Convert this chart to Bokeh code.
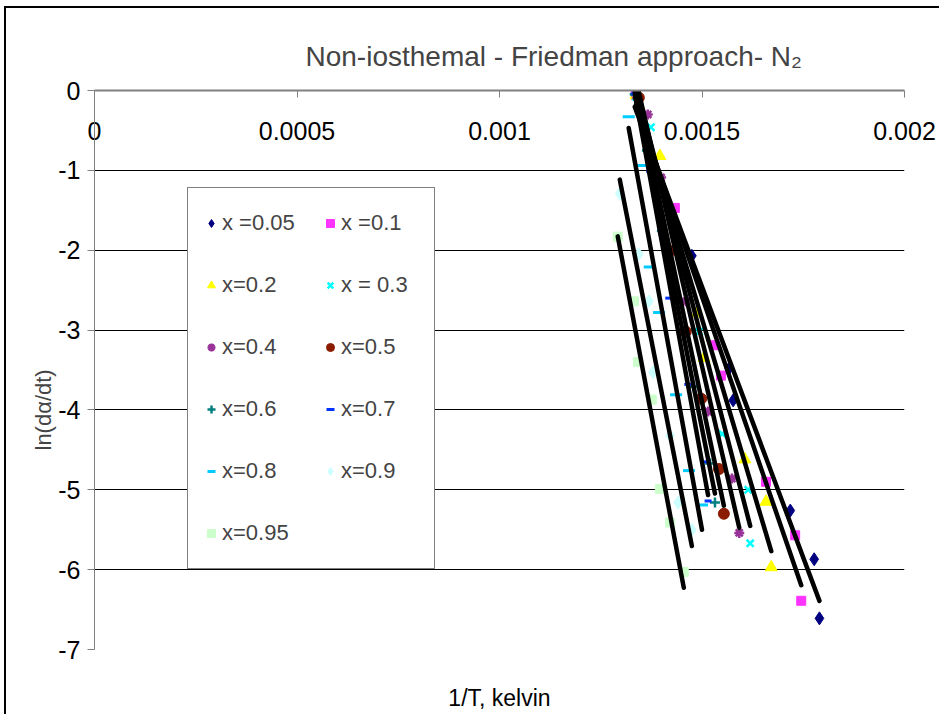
import numpy as np
from bokeh.plotting import figure
from bokeh.models import (Range1d, LinearAxis, FixedTicker, Legend, LegendItem,
                          CustomJSTickFormatter, Title)
from bokeh.embed import file_html
from bokeh.resources import INLINE

# ---- data (1/T in 1/K, ln(dalpha/dt)) ----
labels = ["x =0.05", "x =0.1", "x=0.2", "x = 0.3", "x=0.4", "x=0.5",
          "x=0.6", "x=0.7", "x=0.8", "x=0.9", "x=0.95"]

invT_005 = [0.001334, 0.001475, 0.001567, 0.001577, 0.001718, 0.001777, 0.001790]
ln_005 = [-0.04, -2.07, -3.48, -3.88, -5.26, -5.87, -6.61]
invT_010 = [0.001337, 0.001433, 0.001530, 0.001547, 0.001658, 0.001730, 0.001745]
ln_010 = [-0.06, -1.47, -3.19, -3.57, -4.90, -5.57, -6.39]
invT_020 = [0.001337, 0.001396, 0.001488, 0.001505, 0.001606, 0.001658, 0.001671]
ln_020 = [-0.06, -0.82, -2.79, -3.35, -4.62, -5.15, -5.97]
invT_030 = [0.001337, 0.001374, 0.001431, 0.001493, 0.001550, 0.001614, 0.001619]
ln_030 = [-0.08, -0.46, -1.76, -3.02, -4.30, -5.00, -5.67]
invT_040 = [0.001337, 0.001366, 0.001399, 0.001460, 0.001515, 0.001574, 0.001592]
ln_040 = [-0.06, -0.30, -1.09, -2.64, -4.02, -4.86, -5.54]
invT_050 = [0.001344, 0.001376, 0.001421, 0.001460, 0.001498, 0.001542, 0.001554]
ln_050 = [-0.09, -0.94, -2.01, -3.02, -3.86, -4.74, -5.30]
invT_060 = [0.001334, 0.001364, 0.001401, 0.001441, 0.001480, 0.001520, 0.001532]
ln_060 = [-0.05, -0.75, -1.76, -2.64, -3.71, -4.67, -5.16]
invT_070 = [0.001334, 0.001371, 0.001401, 0.001418, 0.001465, 0.001505, 0.001515]
ln_070 = [-0.04, -1.01, -1.80, -2.60, -3.68, -4.65, -5.14]
invT_080 = [0.001319, 0.001347, 0.001371, 0.001394, 0.001436, 0.001468, 0.001500]
ln_080 = [-0.33, -0.94, -2.21, -2.78, -3.81, -4.76, -5.19]
invT_090 = [0.001297, 0.001344, 0.001369, 0.001379, 0.001421, 0.001441, 0.001475]
ln_090 = [-1.29, -2.05, -2.64, -3.53, -4.32, -5.16, -5.50]
invT_095 = [0.001292, 0.001332, 0.001342, 0.001376, 0.001396, 0.001421, 0.001455]
ln_095 = [-1.83, -2.64, -3.40, -3.87, -4.99, -5.41, -6.03]

x_ticks = [0, 0.0005, 0.001, 0.0015, 0.002]
y_ticks = [-7, -6, -5, -4, -3, -2, -1, 0]

series_x = [invT_005, invT_010, invT_020, invT_030, invT_040, invT_050,
            invT_060, invT_070, invT_080, invT_090, invT_095]
series_y = [ln_005, ln_010, ln_020, ln_030, ln_040, ln_050,
            ln_060, ln_070, ln_080, ln_090, ln_095]

# ---- marker styles (Excel 2003 default palette) ----
styles = [
    dict(marker="diamond", size=13, fill_color="#000080", line_color="#000080"),
    dict(marker="square", size=9, fill_color="#FF33FF", line_color="#FF33FF"),
    dict(marker="triangle", size=12, fill_color="#FFFF00", line_color="#FFFF00"),
    dict(marker="x", size=10, line_color="#00FFFF", line_width=2.5),
    dict(marker="asterisk", size=10, line_color="#993399", line_width=2.5),
    dict(marker="circle", size=11, fill_color="#8C1C00", line_color="#8C1C00"),
    dict(marker="cross", size=10, line_color="#008080", line_width=2.5),
    dict(marker="dash", size=7, line_color="#0033FF", line_width=3),
    dict(marker="dash", size=12, line_color="#00CCFF", line_width=3),
    dict(marker="diamond", size=13, fill_color="#CCFFFF", line_color="#CCFFFF"),
    dict(marker="square", size=9, fill_color="#CCFFCC", line_color="#CCFFCC"),
]

FONT = "Liberation Sans"
plain = CustomJSTickFormatter(code="return tick.toString();")

p = figure(width=935, height=708,
           x_range=Range1d(0, 0.002), y_range=Range1d(-7, 0),
           output_backend="svg", toolbar_location=None,
           min_border_left=88, min_border_right=37, min_border_top=82, min_border_bottom=67,
           x_axis_location=None, y_axis_location=None,
           styles={"margin-left": "4px", "margin-top": "6px",
                   "border-left": "2px solid black", "border-top": "2px solid black"})
p.background_fill_color = "white"
p.border_fill_color = "white"
p.outline_line_color = None

# Title
p.title.text = "Non-iosthemal - Friedman approach- N\u2082"
p.title.align = "left"
p.title.offset = 211
p.title.text_font = FONT
p.title.text_font_size = "28px"
p.title.text_font_style = "normal"
p.title.standoff = 38

# x axis crossing at y = 0 (top of the frame), labels drawn below the line
xaxis = LinearAxis(ticker=FixedTicker(ticks=x_ticks), formatter=plain)
xaxis.axis_line_color = "#808080"
xaxis.axis_line_width = 2
xaxis.major_tick_line_color = "#808080"
xaxis.major_tick_in = 7
xaxis.major_tick_out = 0
xaxis.minor_tick_line_color = None
xaxis.major_label_standoff = -49
xaxis.major_label_text_font = FONT
xaxis.major_label_text_font_size = "25px"
xaxis.major_label_text_color = "black"
p.add_layout(xaxis, "above")

# x axis title at the bottom
xlab = LinearAxis(ticker=FixedTicker(ticks=[]), axis_label="1/T, kelvin")
xlab.axis_line_color = None
xlab.major_tick_line_color = None
xlab.minor_tick_line_color = None
xlab.major_tick_out = 0
xlab.axis_label_standoff = 35
xlab.axis_label_text_font = FONT
xlab.axis_label_text_font_size = "23px"
xlab.axis_label_text_font_style = "normal"
xlab.axis_label_text_color = "black"
p.add_layout(xlab, "below")

# y axis
yaxis = LinearAxis(ticker=FixedTicker(ticks=y_ticks), formatter=plain)
yaxis.axis_line_color = "#808080"
yaxis.axis_line_width = 1
yaxis.major_tick_line_color = "#808080"
yaxis.major_tick_in = 0
yaxis.major_tick_out = 7
yaxis.minor_tick_line_color = None
yaxis.major_label_standoff = 7
yaxis.major_label_text_font = FONT
yaxis.major_label_text_font_size = "25px"
yaxis.major_label_text_color = "black"
p.add_layout(yaxis, "left")

ytitle = Title(text="ln(d\u03b1/dt)", align="left", offset=199, standoff=0,
               text_font=FONT, text_font_size="22px", text_font_style="normal")
p.add_layout(ytitle, "left")

p.xgrid.visible = False
p.ygrid.ticker = FixedTicker(ticks=y_ticks)
p.ygrid.grid_line_color = "black"
p.ygrid.grid_line_width = 1

# scatter points
items = []
for lab, xs, ys, st in zip(labels, series_x, series_y, styles):
    r = p.scatter(xs, ys, **st)
    items.append(LegendItem(label=lab, renderers=[r]))

# linear trendlines (least squares, spanning each series' x-range)
for xs, ys in zip(series_x, series_y):
    xa = np.array(xs)
    slope, icpt = np.polyfit(xa, np.array(ys), 1)
    xe = np.array([xa.min(), xa.max()])
    p.line(xe, slope * xe + icpt, line_color="black", line_width=4.5, line_cap="round")

legend = Legend(items=items, orientation="horizontal", ncols=2, location=(93, 80),
                glyph_width=20, glyph_height=44, spacing=18, padding=13,
                label_standoff=1, label_width=80, margin=0,
                label_text_font=FONT, label_text_font_size="22px",
                border_line_color="black", border_line_width=1,
                background_fill_color="white", background_fill_alpha=1)
p.add_layout(legend, "center")

open("out.html", "w").write(file_html(p, INLINE))
